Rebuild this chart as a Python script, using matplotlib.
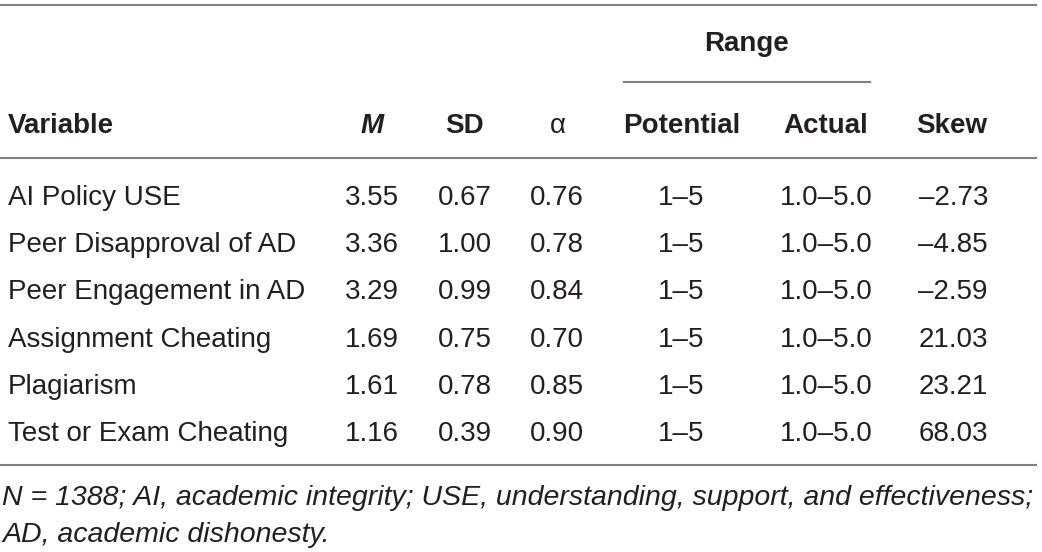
import matplotlib
matplotlib.use("Agg")
import matplotlib.pyplot as plt

variables = ["AI Policy USE", "Peer Disapproval of AD", "Peer Engagement in AD",
             "Assignment Cheating", "Plagiarism", "Test or Exam Cheating"]
means = ["3.55", "3.36", "3.29", "1.69", "1.61", "1.16"]
sds = ["0.67", "1.00", "0.99", "0.75", "0.78", "0.39"]
alphas = ["0.76", "0.78", "0.84", "0.70", "0.85", "0.90"]
potential = ["1–5"] * 6
actual = ["1.0–5.0"] * 6
skew = ["–2.73", "–4.85", "–2.59", "21.03", "23.21", "68.03"]
note_lines = ["N = 1388; AI, academic integrity; USE, understanding, support, and effectiveness;",
              "AD, academic dishonesty."]

W, H = 1042, 552
fig = plt.figure(figsize=(W / 100, H / 100), dpi=100)
ax = fig.add_axes([0, 0, 1, 1])
ax.set_xlim(0, W)
ax.set_ylim(H, 0)
ax.axis("off")

FONT = "Liberation Sans"
TXT = "#231f20"
LINE = "#808080"
FS = 20

# rules
ax.plot([0, 1036], [5, 5], color=LINE, lw=1.5)
ax.plot([624, 870], [82, 82], color=LINE, lw=1.5)
ax.plot([0, 1036], [158, 158], color=LINE, lw=1.5)
ax.plot([0, 1036], [465, 465], color=LINE, lw=1.5)

# headers
ax.text(747, 51, "Range", ha="center", va="baseline", fontsize=FS, fontweight="bold", family=FONT, color=TXT)
hy = 133
ax.text(8, hy, "Variable", ha="left", va="baseline", fontsize=FS, fontweight="bold", family=FONT, color=TXT)
ax.text(372, hy, "M", ha="center", va="baseline", fontsize=FS, fontweight="bold", style="italic", family=FONT, color=TXT)
ax.text(464, hy, "SD", ha="center", va="baseline", fontsize=FS, fontweight="bold", family=FONT, color=TXT)
ax.text(558, hy, "α", ha="center", va="baseline", fontsize=FS, family=FONT, color=TXT)
ax.text(682, hy, "Potential", ha="center", va="baseline", fontsize=FS, fontweight="bold", family=FONT, color=TXT)
ax.text(826, hy, "Actual", ha="center", va="baseline", fontsize=FS, fontweight="bold", family=FONT, color=TXT)
ax.text(952, hy, "Skew", ha="center", va="baseline", fontsize=FS, fontweight="bold", family=FONT, color=TXT)

row_y0 = 205
row_dy = 47.2
for i in range(len(variables)):
    y = row_y0 + i * row_dy
    kw = dict(va="baseline", fontsize=FS, family=FONT, color=TXT)
    ax.text(8, y, variables[i], ha="left", **kw)
    ax.text(372, y, means[i], ha="center", **kw)
    ax.text(465, y, sds[i], ha="center", **kw)
    ax.text(557, y, alphas[i], ha="center", **kw)
    ax.text(681, y, potential[i], ha="center", **kw)
    ax.text(826, y, actual[i], ha="center", **kw)
    ax.text(988, y, skew[i], ha="right", **kw)

# note
NFS = 20.5
ax.text(2, 505, note_lines[0], ha="left", va="baseline", fontsize=NFS, style="italic", family=FONT, color=TXT)
ax.text(2, 542, note_lines[1], ha="left", va="baseline", fontsize=NFS, style="italic", family=FONT, color=TXT)

fig.savefig("out.png", dpi=100, facecolor="white")
